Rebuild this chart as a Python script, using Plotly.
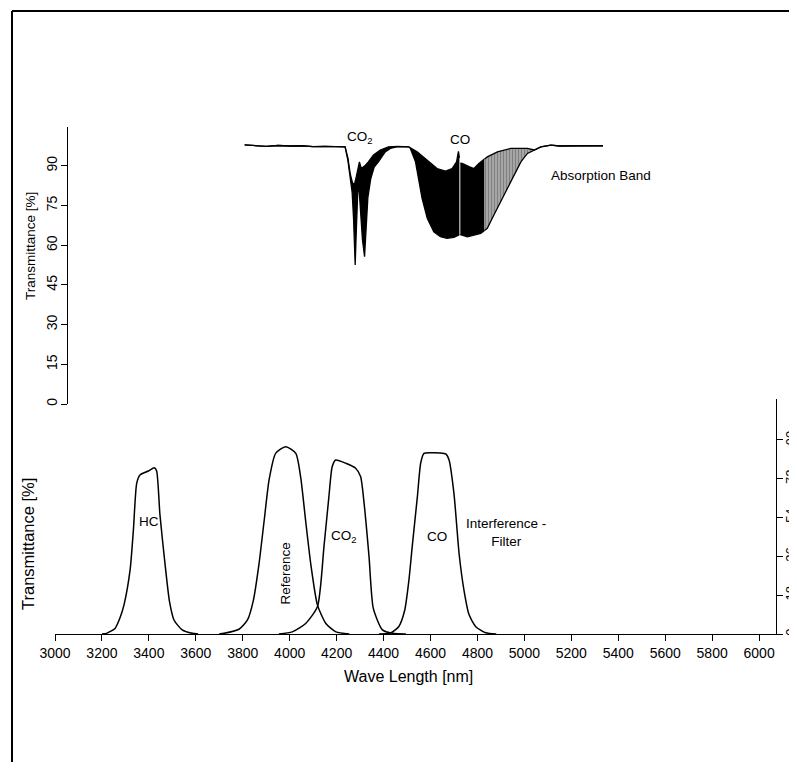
import plotly.graph_objects as go

# ---------------- data ----------------
# Absorption band (upper / lower envelope of the dense spectrum), in %
SEG1_UP_X = [3808, 3850, 3900, 3950, 4000, 4050, 4100, 4150, 4200, 4236, 4248, 4258, 4268, 4276, 4284,
             4292, 4297, 4305, 4320, 4335, 4357, 4386, 4421, 4460, 4507, 4543, 4586, 4628, 4664, 4692,
             4711, 4719, 4723]
SEG1_UP_Y = [97.9, 97.6, 97.4, 97.7, 97.5, 97.6, 97.3, 97.4, 97.3, 97.2, 93.0, 87.0, 83.5, 83.0, 86.0,
             90.0, 91.5, 89.0, 90.0, 91.5, 94.1, 96.0, 97.2, 97.4, 97.2, 95.3, 92.2, 89.0, 88.0, 89.0,
             91.5, 95.5, 93.0]
SEG1_LO_X = [3808, 3850, 3900, 3950, 4000, 4050, 4100, 4150, 4200, 4236, 4248, 4258, 4266, 4272, 4279,
             4284, 4290, 4295, 4300, 4310, 4319, 4326, 4333, 4345, 4360, 4378, 4407, 4429, 4460, 4507,
             4514, 4536, 4550, 4564, 4586, 4614, 4642, 4670, 4700, 4714, 4723]
SEG1_LO_Y = [97.9, 97.6, 97.4, 97.7, 97.5, 97.6, 97.3, 97.4, 97.3, 97.2, 92.0, 86.0, 80.0, 70.0, 52.5,
             66.0, 80.0, 82.0, 76.0, 62.0, 55.7, 68.0, 78.0, 85.0, 89.5, 91.5, 95.3, 96.6, 97.3, 97.2,
             96.6, 91.5, 85.3, 77.7, 70.2, 65.1, 63.2, 62.6, 63.0, 63.8, 64.0]

SEG2_UP_X = [4727, 4735, 4764, 4785, 4806, 4830]
SEG2_UP_Y = [91.0, 90.9, 89.7, 89.0, 90.9, 92.6]
SEG2_LO_X = [4727, 4735, 4757, 4785, 4814, 4830]
SEG2_LO_Y = [64.0, 63.8, 63.2, 63.8, 64.5, 65.6]

SEG3_UP_X = [4830, 4842, 4885, 4942, 5013, 5042, 5070, 5113, 5150, 5200, 5250, 5300, 5335]
SEG3_UP_Y = [92.6, 93.4, 95.3, 96.6, 96.6, 96.0, 97.2, 97.8, 97.5, 97.6, 97.5, 97.6, 97.6]
SEG3_LO_X = [4830, 4842, 4870, 4899, 4928, 4956, 4985, 5013, 5042, 5070, 5113, 5150, 5200, 5250, 5300, 5335]
SEG3_LO_Y = [65.6, 66.4, 71.4, 76.4, 81.5, 86.5, 91.5, 94.7, 96.0, 97.2, 97.8, 97.5, 97.6, 97.5, 97.6, 97.6]

# Interference filters, transmittance in %
HC_X = [3200, 3220, 3256, 3277, 3294, 3320, 3334, 3348, 3362, 3398, 3423, 3433, 3447, 3469, 3488, 3507, 3542, 3585, 3610]
HC_Y = [0, 0.3, 2.6, 7.5, 13.5, 29.7, 48.2, 69.9, 73.8, 75.6, 77.1, 75.6, 55.5, 32.3, 15.0, 6.5, 1.9, 0.3, 0]

REF_X = [3700, 3720, 3784, 3820, 3845, 3869, 3891, 3912, 3940, 3983, 4026, 4047, 4068, 4090, 4118, 4154, 4197, 4254]
REF_Y = [0, 0.3, 2.2, 6.5, 15.5, 32.3, 52.4, 71.4, 83.8, 86.9, 83.8, 72.5, 52.4, 32.3, 13.5, 4.9, 1.0, 0]

CO2F_X = [3954, 4011, 4068, 4118, 4146, 4167, 4181, 4196, 4239, 4281, 4302, 4317, 4338, 4356, 4395, 4438, 4495]
CO2F_Y = [0, 1.0, 4.9, 12.6, 40.5, 63.7, 77.6, 80.7, 79.2, 76.9, 73.0, 60.6, 35.9, 12.0, 1.9, 0.3, 0]

COF_X = [4380, 4430, 4465, 4490, 4508, 4522, 4544, 4558, 4572, 4608, 4640, 4665, 4679, 4700, 4722, 4743, 4764, 4793, 4835, 4880]
COF_Y = [0, 0.5, 3.5, 11.0, 25.0, 40.5, 63.7, 79.2, 83.8, 84.1, 84.0, 83.5, 80.7, 65.0, 37.0, 20.0, 9.0, 3.4, 0.6, 0]

X_TICKS = [3000, 3200, 3400, 3600, 3800, 4000, 4200, 4400, 4600, 4800, 5000, 5200, 5400, 5600, 5800, 6000]
TOP_Y_TICKS = [0, 15, 30, 45, 60, 75, 90]
BOT_Y_TICKS = [0, 18, 36, 54, 72, 90]

X_RANGE = [3000, 6072]
TOP_Y_RANGE = [0, 104.8]
BOT_Y_RANGE = [0, 109]

# ---------------- layout helpers ----------------
# The page body has an 8 px default margin, so the figure is drawn 8 px in
# from the window's top-left corner; positions below are given in window pixels.
# Height is reduced so the page does not overflow vertically (no scrollbar).
OFF = 8
W, H = 797 - OFF, 778 - 2 * OFF - 8
FONT = "Liberation Sans, Arial, Helvetica, sans-serif"


def fx(p):
    return (p - OFF) / W


def fy(p):
    return 1 - (p - OFF) / H


fig = go.Figure()


def band(ux, uy, lx, ly, pattern=None):
    fig.add_trace(go.Scatter(x=ux, y=uy, xaxis="x", yaxis="y2", mode="lines",
                             line=dict(color="black", width=1.3), hoverinfo="skip"))
    kw = dict(fill="tonexty", fillcolor="black")
    if pattern:
        kw = dict(fill="tonexty", fillcolor="white",
                  fillpattern=dict(shape="|", fgcolor="black", bgcolor="white", size=3, solidity=0.8))
    fig.add_trace(go.Scatter(x=lx, y=ly, xaxis="x", yaxis="y2", mode="lines",
                             line=dict(color="black", width=1.3), hoverinfo="skip", **kw))


band(SEG1_UP_X, SEG1_UP_Y, SEG1_LO_X, SEG1_LO_Y)
band(SEG2_UP_X, SEG2_UP_Y, SEG2_LO_X, SEG2_LO_Y)
band(SEG3_UP_X, SEG3_UP_Y, SEG3_LO_X, SEG3_LO_Y, pattern=True)

for xs, ys in [(HC_X, HC_Y), (REF_X, REF_Y), (CO2F_X, CO2F_Y), (COF_X, COF_Y)]:
    fig.add_trace(go.Scatter(x=xs, y=ys, xaxis="x", yaxis="y", mode="lines",
                             line=dict(color="black", width=1.5, shape="spline", smoothing=0.6),
                             hoverinfo="skip"))

axis_common = dict(showgrid=False, zeroline=False, automargin=False, linecolor="black", linewidth=1.3,
                   tickcolor="black", tickwidth=1.3, ticklen=6,
                   tickfont=dict(family=FONT, size=14, color="black"))

x_dom = [fx(55), fx(776)]
bot_dom = [fy(634), fy(399)]
top_dom = [fy(404), fy(126.7)]

ghost = dict(showline=False, showticklabels=False, tickmode="array")

fig.update_layout(
    width=W, height=H, margin=dict(l=0, r=0, t=0, b=0, pad=0, autoexpand=False),
    paper_bgcolor="white", plot_bgcolor="white", showlegend=False,
    font=dict(family=FONT, color="black"),
    xaxis=dict(domain=x_dom, range=X_RANGE, anchor="y", showline=True, ticks="outside",
               tickmode="array", tickvals=X_TICKS, ticktext=[str(v) for v in X_TICKS],
               **axis_common),
    xaxis2=dict(domain=x_dom, range=X_RANGE, anchor="y", overlaying="x", ticks="inside",
                tickvals=X_TICKS, **ghost, **axis_common),
    yaxis=dict(domain=bot_dom, range=BOT_Y_RANGE, anchor="x", side="right", showline=True,
               ticks="outside", tickmode="array", tickvals=BOT_Y_TICKS,
               ticktext=[str(v) for v in BOT_Y_TICKS], tickangle=-90, ticklabelstandoff=-4,
               **{**axis_common, "tickfont": dict(family=FONT, size=13, color="black")}),
    yaxis4=dict(domain=bot_dom, range=BOT_Y_RANGE, anchor="x", side="right", overlaying="y",
                ticks="inside", tickvals=BOT_Y_TICKS[1:] + [BOT_Y_RANGE[1]], **ghost, **axis_common),
    yaxis6=dict(domain=bot_dom, range=BOT_Y_RANGE, anchor="x", side="right", overlaying="y",
                ticks="outside", tickvals=[BOT_Y_RANGE[1]], **ghost, **axis_common),
    yaxis2=dict(domain=top_dom, range=TOP_Y_RANGE, anchor="free", position=fx(67), side="left",
                showline=True, ticks="outside", tickmode="array", tickvals=TOP_Y_TICKS,
                ticktext=[str(v) for v in TOP_Y_TICKS], tickangle=-90, ticklabelstandoff=-2,
                **axis_common),
    yaxis3=dict(domain=top_dom, range=TOP_Y_RANGE, anchor="free", position=fx(67), side="left",
                overlaying="y2", ticks="inside", tickvals=TOP_Y_TICKS + [TOP_Y_RANGE[1]],
                **ghost, **axis_common),
    yaxis5=dict(domain=top_dom, range=TOP_Y_RANGE, anchor="free", position=fx(67), side="left",
                overlaying="y2", ticks="outside", tickvals=[TOP_Y_RANGE[1]], **ghost, **axis_common),
)

ann = []
f13 = dict(family=FONT, size=13.5, color="black")
C = dict(xanchor="center", yanchor="middle", showarrow=False)
# axis titles
ann.append(dict(text="Wave Length [nm]", xref="paper", yref="paper", x=fx(408), y=fy(676),
                font=dict(family=FONT, size=16, color="black"), **C))
ann.append(dict(text="Transmittance [%]", xref="paper", yref="paper", x=fx(28), y=fy(544),
                textangle=-90, font=dict(family=FONT, size=16.5, color="black"), **C))
ann.append(dict(text="Transmittance [%]", xref="paper", yref="paper", x=fx(30), y=fy(246),
                textangle=-90, font=dict(family=FONT, size=13.5, color="black"), **C))
# top labels
ann.append(dict(text="CO<sub>2</sub>", xref="x", yref="y2", x=4300, y=100.6, font=f13, **C))
ann.append(dict(text="CO", xref="x", yref="y2", x=4726, y=99.8, font=f13, **C))
ann.append(dict(text="Absorption Band", xref="x", yref="y2", x=5105, y=86.5, xanchor="left",
                yanchor="middle", showarrow=False, font=f13))
# bottom labels
ann.append(dict(text="HC", xref="x", yref="y", x=3400, y=52, font=f13, **C))
ann.append(dict(text="Reference", xref="x", yref="y", x=3984, y=28, textangle=-90, font=f13, **C))
ann.append(dict(text="CO<sub>2</sub>", xref="x", yref="y", x=4232, y=45, font=f13, **C))
ann.append(dict(text="CO", xref="x", yref="y", x=4628, y=45, font=f13, **C))
ann.append(dict(text="Interference -<br>Filter", xref="x", yref="y", x=4922, y=47, font=f13, **C))
fig.update_layout(annotations=ann)

# scan frame
fig.update_layout(shapes=[
    dict(type="line", xref="paper", yref="paper", x0=fx(12), x1=1, y0=fy(11), y1=fy(11),
         line=dict(color="black", width=2)),
    dict(type="line", xref="paper", yref="paper", x0=fx(12), x1=fx(12), y0=fy(11), y1=0,
         line=dict(color="black", width=2)),
])

fig.write_html("out.html")
